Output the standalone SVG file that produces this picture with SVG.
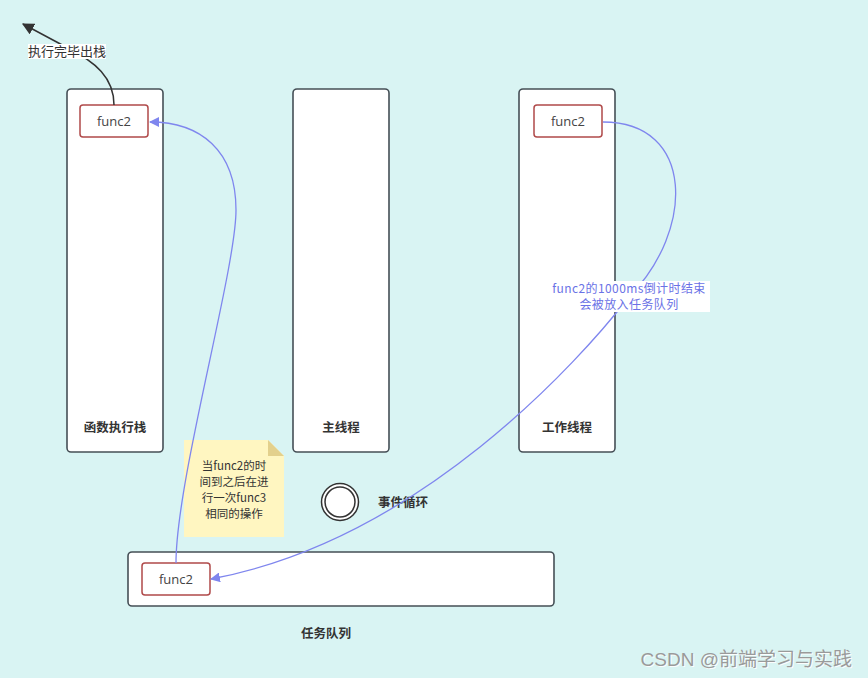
<svg xmlns="http://www.w3.org/2000/svg" width="868" height="678" viewBox="0 0 868 678">
<defs>
<marker id="ab" viewBox="0 0 10 10" refX="9" refY="5" markerWidth="10" markerHeight="10" markerUnits="userSpaceOnUse" orient="auto"><path d="M0,0 L10,5 L0,10 Z" fill="#7f86ee"/></marker>
<marker id="ak" viewBox="0 0 10 10" refX="9" refY="5" markerWidth="12" markerHeight="12" markerUnits="userSpaceOnUse" orient="auto"><path d="M0,0 L10,5 L0,10 Z" fill="#333"/></marker>
</defs>
<style>
.col{fill:#fff;stroke:#454f56;stroke-width:1.6}
.fn{fill:#fff;stroke:#b04a4a;stroke-width:1.5}
.t{font-family:"Noto Sans CJK SC","Liberation Sans",sans-serif;font-size:12.5px;fill:#333;text-anchor:middle}
.b{font-weight:bold;font-size:12.5px}
.n{font-size:11.5px}
.fx{font-family:"Open Sans","Liberation Sans",sans-serif;font-size:13px;fill:#444}
.fl{fill:none;stroke:#7f86ee;stroke-width:1.3}
.bl{fill:#6a72e6;font-size:12px;letter-spacing:0.4px}
</style>
<rect width="868" height="678" fill="#d9f4f3"/>
<g id="stack"><rect class="col" x="67" y="89" width="96" height="363" rx="4"/><text class="t b" x="115" y="432">函数执行栈</text></g>
<g id="main"><rect class="col" x="293" y="89" width="96" height="363" rx="4"/><text class="t b" x="341" y="432">主线程</text></g>
<g id="worker"><rect class="col" x="519" y="89" width="96" height="363" rx="4"/><text class="t b" x="567" y="432">工作线程</text></g>
<g id="queue"><rect class="col" x="128" y="552" width="426" height="54" rx="4"/><text class="t b" x="326" y="638">任务队列</text></g>
<g id="loop"><circle cx="340" cy="502" r="18.5" fill="#fff" stroke="#333" stroke-width="1.5"/><circle cx="340" cy="502" r="15" fill="#fff" stroke="#333" stroke-width="1.5"/><text class="t b" x="403" y="507">事件循环</text></g>
<g id="f1"><rect class="fn" x="80" y="105" width="68" height="32" rx="3"/><text class="t fx" x="114" y="126">func2</text></g>
<g id="f2"><rect class="fn" x="534" y="105" width="68" height="32" rx="3"/><text class="t fx" x="568" y="126">func2</text></g>
<g id="f3"><rect class="fn" x="142" y="563" width="68" height="32" rx="3"/><text class="t fx" x="176" y="584">func2</text></g>
<g id="note">
<path d="M184,440 H268 L284,456 V537 H184 Z" fill="#fff6c1"/>
<path d="M268,440 L284,456 H268 Z" fill="#e3d08c"/>
<text class="t n" x="234" y="470">当func2的时</text>
<text class="t n" x="234" y="486">间到之后在进</text>
<text class="t n" x="234" y="502">行一次func3</text>
<text class="t n" x="234" y="518">相同的操作</text>
</g>
<g id="connectors">
<path d="M114,105 C114,78 96,62 66,47 L23,24" fill="none" stroke="#333" stroke-width="1.5" marker-end="url(#ak)"/>
<path class="fl" d="M176,563 C176,480 236,270 236,210 C236,150 200,122 150,122" marker-end="url(#ab)"/>
<path class="fl" d="M603,122 C695,122 695,230 629,297 C580,360 420,540 211,579" marker-end="url(#ab)"/>
<rect x="28" y="44" width="78" height="15" fill="#fff"/>
<text class="t" x="67" y="56" style="font-size:13px">执行完毕出栈</text>
<rect x="547" y="281" width="163" height="31" fill="#fff"/>
<text class="t bl" x="629" y="293">func2的1000ms倒计时结束</text>
<text class="t bl" x="629" y="309">会被放入任务队列</text>
</g>
<text x="853" y="667" font-family="Liberation Sans,Noto Sans CJK SC,sans-serif" font-size="19" fill="#fff" text-anchor="end" opacity="0.9">CSDN @前端学习与实践</text>
<text x="852" y="666" font-family="Liberation Sans,Noto Sans CJK SC,sans-serif" font-size="19" fill="#9a9a9a" text-anchor="end">CSDN @前端学习与实践</text>
</svg>
